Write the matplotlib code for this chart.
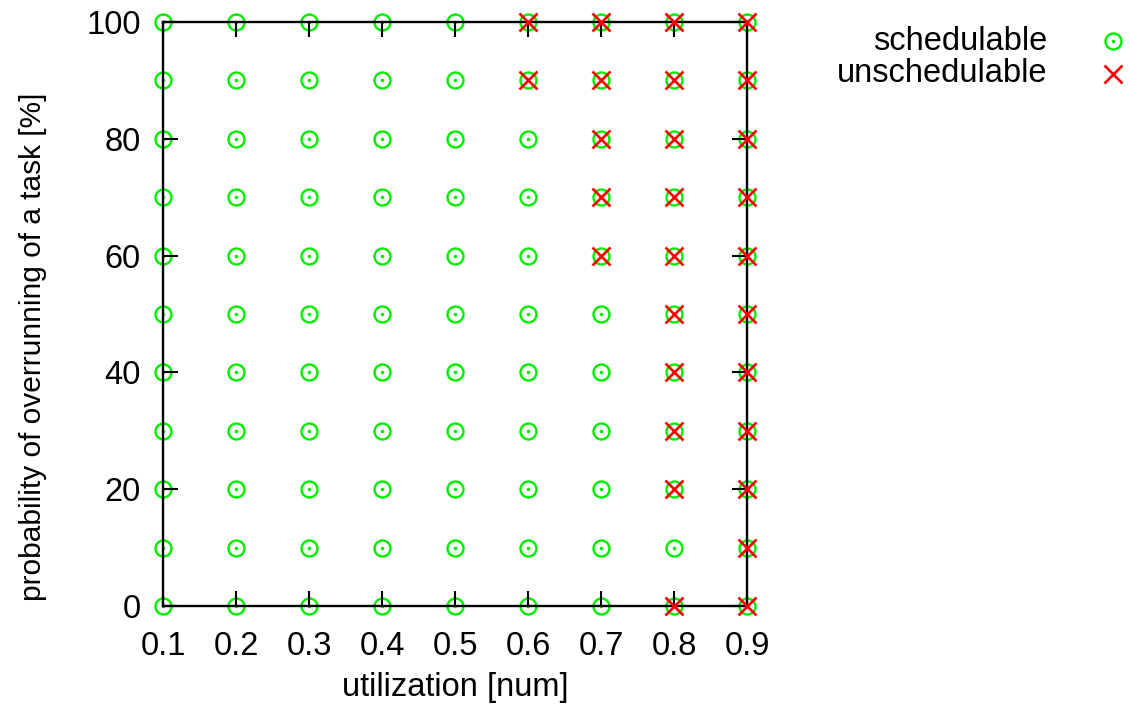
import matplotlib
matplotlib.use("Agg")
import matplotlib.pyplot as plt
from matplotlib.lines import Line2D

plt.rcParams['font.family'] = ['Liberation Sans', 'DejaVu Sans']

utilization = [0.1, 0.2, 0.3, 0.4, 0.5, 0.6, 0.7, 0.8, 0.9]
prob_levels = [0, 10, 20, 30, 40, 50, 60, 70, 80, 90, 100]

# every tested configuration got a schedulable mark
schedulable = {
    0.1: prob_levels, 0.2: prob_levels, 0.3: prob_levels,
    0.4: prob_levels, 0.5: prob_levels, 0.6: prob_levels,
    0.7: prob_levels, 0.8: prob_levels, 0.9: prob_levels,
}
# configurations that failed at least once
unschedulable = {
    0.6: [90, 100],
    0.7: [60, 70, 80, 90, 100],
    0.8: [0, 20, 30, 40, 50, 60, 70, 80, 90, 100],
    0.9: [0, 10, 20, 30, 40, 50, 60, 70, 80, 90, 100],
}

green = '#00ee00'
red = '#ff0000'
FS = 23.5


def flatten(d):
    xs, ys = [], []
    for u, ps in d.items():
        for p in ps:
            xs.append(u)
            ys.append(p)
    return xs, ys


fig = plt.figure(figsize=(11.29, 7.09), dpi=100)
ax = fig.add_axes([0.1444, 0.1453, 0.6617 - 0.1444, 0.969 - 0.1453])

sx, sy = flatten(schedulable)
ux, uy = flatten(unschedulable)

ax.plot(sx, sy, ls='none', marker='o', ms=11.5, mfc='none', mec=green,
        mew=1.7, clip_on=False, zorder=1)
ax.plot(sx, sy, ls='none', marker='o', ms=1.5, mfc=green, mec=green,
        clip_on=False, zorder=1)
ax.plot(ux, uy, ls='none', marker='x', ms=12.5, mec=red, mew=1.9,
        clip_on=False, zorder=5)

ax.set_xlim(0.1, 0.9)
ax.set_ylim(0, 100)
ax.set_xticks(utilization)
ax.set_xticklabels([f'{u:.1f}' for u in utilization])
ax.set_yticks([0, 20, 40, 60, 80, 100])

for s in ax.spines.values():
    s.set_linewidth(1.7)
    s.set_zorder(3)
ax.tick_params(direction='in', length=11, width=1.5, labelsize=FS,
               top=True, right=True)
ax.tick_params(axis='x', pad=18)
ax.tick_params(axis='y', pad=16)

# axis titles placed in figure coordinates
fig.text(0.403, 0.030, 'utilization [num]', ha='center', va='center',
         fontsize=FS)
fig.text(0.029, 0.511, 'probability of overrunning of a task [%]',
         ha='center', va='center', rotation=90, fontsize=21.5)

# legend, text right-aligned with its symbol to the right
fig.text(0.928, 0.942, 'schedulable', ha='right', va='center', fontsize=FS)
fig.text(0.928, 0.896, 'unschedulable', ha='right', va='center', fontsize=FS)
fig.add_artist(Line2D([0.986], [0.942], ls='none', marker='o', ms=11.5,
                      mfc='none', mec=green, mew=1.7))
fig.add_artist(Line2D([0.986], [0.942], ls='none', marker='o', ms=1.5,
                      mfc=green, mec=green))
fig.add_artist(Line2D([0.986], [0.896], ls='none', marker='x', ms=12.5,
                      mec=red, mew=1.9))

fig.savefig('out.png', dpi=100)
